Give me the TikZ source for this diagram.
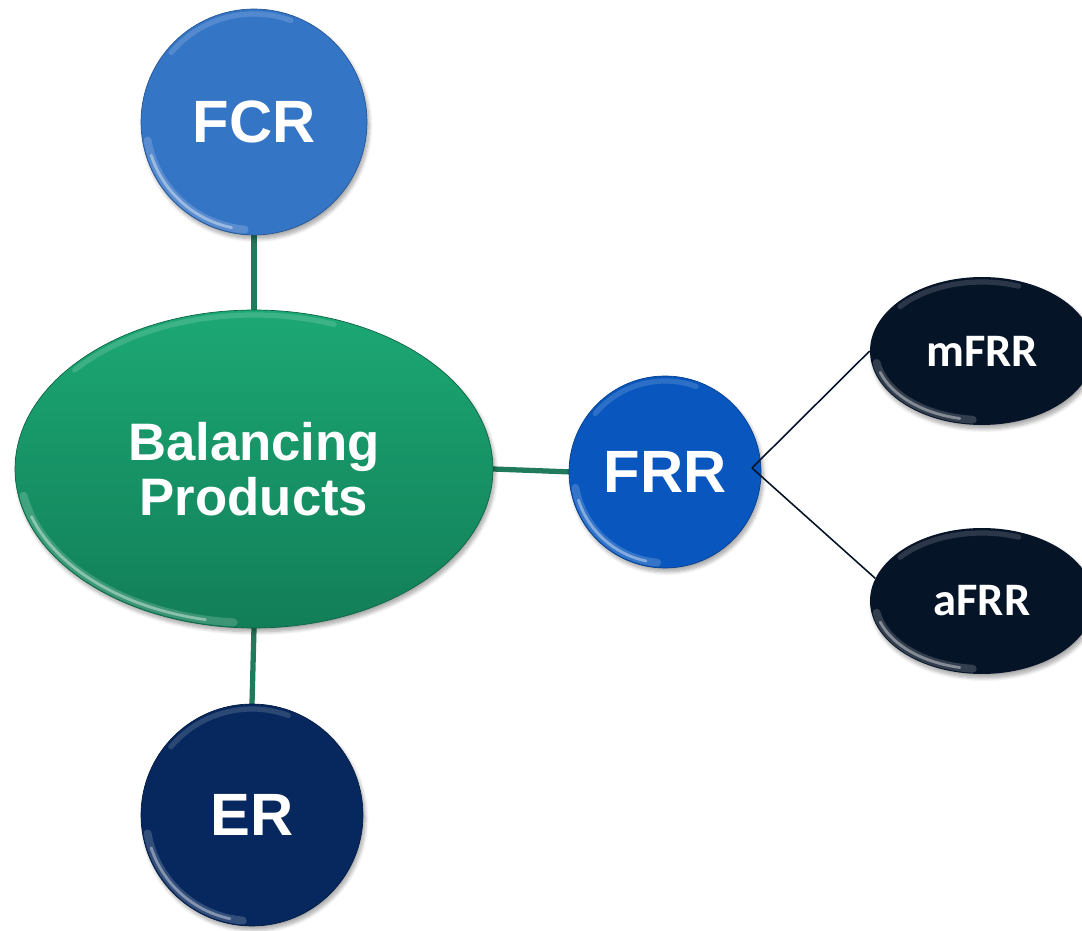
\documentclass[tikz,border=0pt]{standalone}
\usepackage{fontspec}
\setmainfont{Liberation Sans}
\newfontfamily\calibfont{Carlito}
\usetikzlibrary{shapes.geometric,shadows.blur,calc}

\definecolor{fcrblue}{HTML}{3575C6}
\definecolor{frrblue}{HTML}{0856BE}
\definecolor{ernavy}{HTML}{06285E}
\definecolor{subnavy}{HTML}{061428}
\definecolor{bptop}{HTML}{1CA874}
\definecolor{bpbottom}{HTML}{127E58}
\definecolor{linkgreen}{HTML}{1F7B5C}

% soft light rim along the lower left edge and a faint one along the top
\newcommand\glossrim[3]{%
  \draw[white, opacity=0.18, line width=4.5pt, line cap=round]
    ($(#1.center)+(190:#2 and #3)$) arc[start angle=190, end angle=265, x radius=#2, y radius=#3];
  \draw[white, opacity=0.4, line width=1.6pt, line cap=round]
    ($(#1.center)+(198:#2 and #3)$) arc[start angle=198, end angle=258, x radius=#2, y radius=#3];
  \draw[white, opacity=0.15, line width=3pt, line cap=round]
    ($(#1.center)+(70:#2 and #3)$) arc[start angle=70, end angle=140, x radius=#2, y radius=#3];
}

\begin{document}
\begin{tikzpicture}[x=0.02cm, y=0.02cm,
  bubble/.style={text=white, inner sep=0pt,
    blur shadow={shadow xshift=1.2pt, shadow yshift=-2.2pt, shadow blur steps=8, shadow opacity=35}},
  bigtext/.style={font=\bfseries\fontsize{34}{36}\selectfont},
  subtext/.style={font=\calibfont\bfseries\fontsize{26.5}{28}\selectfont},
  trunk/.style={draw=linkgreen, line width=3pt},
  twig/.style={draw=subnavy, line width=0.9pt}]

\useasboundingbox (0,0) rectangle (1082,930);
\clip (0,0) rectangle (1082,930);

% connectors
\coordinate (fcrfoot) at (254,695);
\coordinate (bptop) at (254,620);
\coordinate (bpfoot) at (254,302);
\coordinate (ertop) at (252,226);
\coordinate (bpright) at (493,461);
\coordinate (frrleft) at (572,458);
\draw[trunk] (fcrfoot) -- (bptop);
\draw[trunk] (bpfoot) -- (ertop);
\draw[trunk] (bpright) -- (frrleft);

% main hub
\node[bubble, ellipse, minimum width=9.56cm, minimum height=6.36cm,
      top color=bptop, bottom color=bpbottom, draw=bpbottom!80!black, line width=0.4pt,
      align=center, font=\bfseries\fontsize{30}{31.5}\selectfont]
  (BP) at (254,461) {Balancing\\Products};
\glossrim{BP}{234}{154}

% first level products
\node[bubble, circle, minimum size=4.52cm, fill=fcrblue, draw=fcrblue!75!black, line width=0.4pt, bigtext]
  (FCR) at (254,808) {FCR};
\glossrim{FCR}{108}{108}

\node[bubble, circle, minimum size=4.44cm, fill=ernavy, draw=ernavy!70!black, line width=0.4pt, bigtext]
  (ER) at (252,115) {ER};
\glossrim{ER}{106}{106}

\node[bubble, circle, minimum size=3.84cm, fill=frrblue, draw=frrblue!75!black, line width=0.4pt, bigtext]
  (FRR) at (665,458) {FRR};
\glossrim{FRR}{91}{91}

% FRR sub-products
\node[bubble, ellipse, minimum width=4.48cm, minimum height=2.96cm, fill=subnavy, subtext]
  (mFRR) at (982,579) {mFRR};
\glossrim{mFRR}{107}{69}

\node[bubble, ellipse, minimum width=4.48cm, minimum height=2.92cm, fill=subnavy, subtext]
  (aFRR) at (982,329) {aFRR};
\glossrim{aFRR}{107}{68}

\coordinate (fork) at (752,462);
\draw[twig] (fork) -- (mFRR.west);
\draw[twig] (fork) -- (aFRR.168);
\end{tikzpicture}
\end{document}
